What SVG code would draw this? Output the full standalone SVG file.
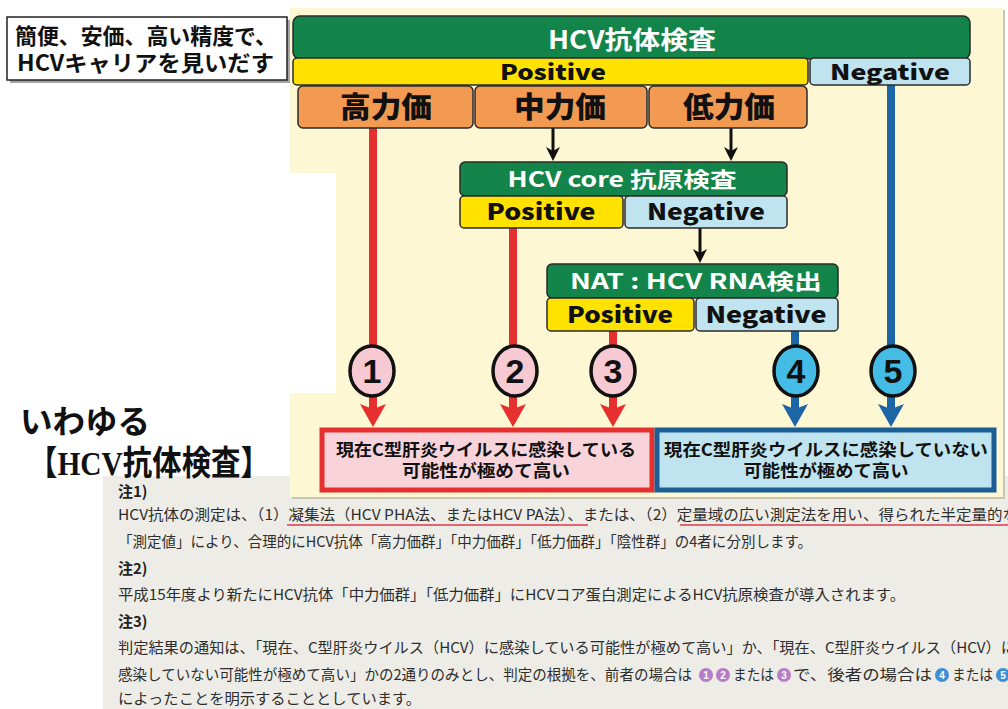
<svg xmlns="http://www.w3.org/2000/svg" width="1008" height="709" viewBox="0 0 1008 709">
<style>
.jp{font-family:"Noto Sans CJK JP","Noto Sans",sans-serif;}
.b{font-weight:700;}
.h{font-weight:900;}
.wt{fill:#ffffff;}
.bk{fill:#111111;}
.box{stroke:#2a2a2a;stroke-width:1.5;}
.green{fill:#13854a;}
.yellow{fill:#ffe200;}
.lblue{fill:#bfe4ef;}
.orange{fill:#f29a52;}
.note{font-family:"Noto Sans CJK JP","Noto Sans",sans-serif;font-size:15px;fill:#2e2e2e;}
.noteh{font-family:"Noto Sans CJK JP","Noto Sans",sans-serif;font-size:15px;font-weight:700;fill:#222;}
.red{stroke:#e5302f;stroke-width:8;fill:none;}
.blue{stroke:#1d66a6;stroke-width:8;fill:none;}
.blk{stroke:#111;stroke-width:3;fill:none;}
.circ{stroke:#111;stroke-width:3.5;}
.num{font-family:"Liberation Sans","Noto Sans",sans-serif;font-weight:700;font-size:34px;fill:#111;text-anchor:middle;}
.mid{text-anchor:middle;}
.sn{font-family:"Liberation Sans",sans-serif;font-size:10px;font-weight:700;fill:#fff;text-anchor:middle;}
</style>
<defs>
<marker id="ar" markerUnits="userSpaceOnUse" markerWidth="26" markerHeight="26" refX="6" refY="13" orient="auto" viewBox="0 0 26 26"><path d="M0,0 L23,13 L0,26 L5,13 Z" fill="#e5302f"/></marker>
<marker id="ab" markerUnits="userSpaceOnUse" markerWidth="26" markerHeight="26" refX="6" refY="13" orient="auto" viewBox="0 0 26 26"><path d="M0,0 L23,13 L0,26 L5,13 Z" fill="#1d66a6"/></marker>
<marker id="ak" markerUnits="userSpaceOnUse" markerWidth="14" markerHeight="14" refX="4" refY="7" orient="auto" viewBox="0 0 14 14"><path d="M0,0 L14,7 L0,14 L4,7 Z" fill="#111"/></marker>
</defs>

<!-- page backgrounds -->
<rect x="0" y="0" width="1008" height="709" fill="#ffffff"/>
<rect x="103" y="476" width="905" height="233" fill="#edece6"/>
<path d="M292,10 H1005 V499 H292 Z" fill="#c9c6b8"/>
<path d="M290,8 H1003 V497 H290 V393 H336 V173 H290 Z" fill="#fdf7d3"/>
<rect x="0" y="173" width="336" height="220" fill="#ffffff"/>

<!-- left labels -->
<g id="label-top">
<rect x="10" y="20" width="280" height="63" fill="#a5a5a5"/>
<rect x="7" y="17" width="280" height="63" fill="#ffffff" stroke="#222" stroke-width="1.5"/>
<text class="jp b bk" x="15" y="44" font-size="22" textLength="262" lengthAdjust="spacingAndGlyphs">簡便、安価、高い精度で、</text>
<text class="jp b bk" x="17" y="71" font-size="22" textLength="257" lengthAdjust="spacingAndGlyphs">HCVキャリアを見いだす</text>
</g>
<g id="label-iwayuru">
<text class="jp b bk" x="20" y="433" font-size="32" textLength="130" lengthAdjust="spacingAndGlyphs">いわゆる</text>
<text class="jp b bk" x="28" y="475" font-size="34" textLength="242" lengthAdjust="spacingAndGlyphs">【<tspan font-family="Liberation Serif, serif">HCV</tspan>抗体検査】</text>
</g>

<!-- connectors -->
<g id="connectors">
<line class="red" x1="373" y1="128" x2="373" y2="410" marker-end="url(#ar)"/>
<line class="red" x1="513" y1="228" x2="513" y2="410" marker-end="url(#ar)"/>
<line class="red" x1="613" y1="331" x2="613" y2="410" marker-end="url(#ar)"/>
<line class="blue" x1="795" y1="331" x2="795" y2="410" marker-end="url(#ab)"/>
<line class="blue" x1="891" y1="85" x2="891" y2="410" marker-end="url(#ab)"/>
<line class="blk" x1="553" y1="128" x2="553" y2="151" marker-end="url(#ak)"/>
<line class="blk" x1="731" y1="128" x2="731" y2="151" marker-end="url(#ak)"/>
<line class="blk" x1="700" y1="228" x2="700" y2="253" marker-end="url(#ak)"/>
</g>

<!-- HCV antibody test -->
<g id="hcv-antibody">
<rect class="box green" x="293" y="16" width="677" height="43" rx="7"/>
<text class="jp b wt mid" x="632" y="49" font-size="25" textLength="168" lengthAdjust="spacingAndGlyphs">HCV抗体検査</text>
</g>
<g id="ab-positive">
<rect class="box yellow" x="293" y="58" width="515" height="27" rx="4"/>
<text class="jp h bk mid" x="553" y="80" font-size="21" textLength="106" lengthAdjust="spacingAndGlyphs">Positive</text>
</g>
<g id="ab-negative">
<rect class="box lblue" x="810" y="58" width="160" height="27" rx="4"/>
<text class="jp h bk mid" x="890" y="80" font-size="21" textLength="120" lengthAdjust="spacingAndGlyphs">Negative</text>
</g>
<g id="high">
<rect class="box orange" x="298" y="86" width="175" height="42" rx="5"/>
<text class="jp h bk mid" x="386" y="118" font-size="29" textLength="92" lengthAdjust="spacingAndGlyphs">高力価</text>
</g>
<g id="mid">
<rect class="box orange" x="475" y="86" width="172" height="42" rx="5"/>
<text class="jp h bk mid" x="560" y="118" font-size="29" textLength="92" lengthAdjust="spacingAndGlyphs">中力価</text>
</g>
<g id="low">
<rect class="box orange" x="649" y="86" width="158" height="42" rx="5"/>
<text class="jp h bk mid" x="729" y="118" font-size="29" textLength="92" lengthAdjust="spacingAndGlyphs">低力価</text>
</g>

<!-- HCV core -->
<g id="hcv-core">
<rect class="box green" x="460" y="162" width="327" height="34" rx="5"/>
<text class="jp b wt mid" x="622" y="187" font-size="21" textLength="229" lengthAdjust="spacingAndGlyphs">HCV core 抗原検査</text>
</g>
<g id="core-positive">
<rect class="box yellow" x="460" y="196" width="163" height="32" rx="4"/>
<text class="jp h bk mid" x="541" y="220" font-size="22" textLength="109" lengthAdjust="spacingAndGlyphs">Positive</text>
</g>
<g id="core-negative">
<rect class="box lblue" x="625" y="196" width="162" height="32" rx="4"/>
<text class="jp h bk mid" x="706" y="220" font-size="22" textLength="118" lengthAdjust="spacingAndGlyphs">Negative</text>
</g>

<!-- NAT -->
<g id="nat">
<rect class="box green" x="547" y="264" width="291" height="34" rx="5"/>
<text class="jp b wt mid" x="696" y="289" font-size="21" textLength="252" lengthAdjust="spacingAndGlyphs">NAT : HCV RNA検出</text>
</g>
<g id="nat-positive">
<rect class="box yellow" x="547" y="298" width="147" height="33" rx="4"/>
<text class="jp h bk mid" x="620" y="323" font-size="22" textLength="106" lengthAdjust="spacingAndGlyphs">Positive</text>
</g>
<g id="nat-negative">
<rect class="box lblue" x="696" y="298" width="142" height="33" rx="4"/>
<text class="jp h bk mid" x="766" y="323" font-size="22" textLength="121" lengthAdjust="spacingAndGlyphs">Negative</text>
</g>

<!-- circled numbers -->
<g id="c1"><ellipse class="circ" cx="372" cy="371" rx="22" ry="25" fill="#f6c9d3"/><text class="num" x="372" y="383">1</text></g>
<g id="c2"><ellipse class="circ" cx="515" cy="371" rx="22" ry="25" fill="#f6c9d3"/><text class="num" x="515" y="383">2</text></g>
<g id="c3"><ellipse class="circ" cx="613" cy="371" rx="22" ry="25" fill="#f6c9d3"/><text class="num" x="613" y="383">3</text></g>
<g id="c4"><ellipse class="circ" cx="796" cy="371" rx="22" ry="25" fill="#44bce5"/><text class="num" x="796" y="383">4</text></g>
<g id="c5"><ellipse class="circ" cx="893" cy="371" rx="22" ry="25" fill="#44bce5"/><text class="num" x="893" y="383">5</text></g>

<!-- result boxes -->
<g id="result-infected">
<rect x="322" y="430" width="330" height="60" fill="#f8d3da" stroke="#e5302f" stroke-width="5"/>
<text class="jp b bk mid" x="486" y="456" font-size="17" textLength="300" lengthAdjust="spacingAndGlyphs">現在C型肝炎ウイルスに感染している</text>
<text class="jp b bk mid" x="486" y="477" font-size="17" textLength="168" lengthAdjust="spacingAndGlyphs">可能性が極めて高い</text>
</g>
<g id="result-not-infected">
<rect x="657" y="430" width="337" height="60" fill="#bfe4ef" stroke="#1b5e96" stroke-width="5"/>
<text class="jp b bk mid" x="826" y="456" font-size="17" textLength="324" lengthAdjust="spacingAndGlyphs">現在C型肝炎ウイルスに感染していない</text>
<text class="jp b bk mid" x="826" y="477" font-size="17" textLength="165" lengthAdjust="spacingAndGlyphs">可能性が極めて高い</text>
</g>

<!-- notes -->
<g id="notes">
<text class="noteh" x="118" y="497">注1)</text>
<text class="note" x="118" y="520" textLength="900" lengthAdjust="spacingAndGlyphs">HCV抗体の測定は、（1）凝集法（HCV PHA法、またはHCV PA法）、または、（2）定量域の広い測定法を用い、得られた半定量的な</text>
<line x1="287" y1="525" x2="588" y2="525" stroke="#e0384a" stroke-width="1.5"/>
<line x1="680" y1="525" x2="1008" y2="525" stroke="#e0384a" stroke-width="1.5"/>
<text class="note" x="118" y="547" textLength="694" lengthAdjust="spacingAndGlyphs">「測定値」により、合理的にHCV抗体「高力価群」「中力価群」「低力価群」「陰性群」の4者に分別します。</text>
<text class="noteh" x="118" y="574">注2)</text>
<text class="note" x="118" y="600" textLength="787" lengthAdjust="spacingAndGlyphs">平成15年度より新たにHCV抗体「中力価群」「低力価群」にHCVコア蛋白測定によるHCV抗原検査が導入されます。</text>
<text class="noteh" x="118" y="627">注3)</text>
<text class="note" x="118" y="653" textLength="898" lengthAdjust="spacingAndGlyphs">判定結果の通知は、「現在、C型肝炎ウイルス（HCV）に感染している可能性が極めて高い」か、「現在、C型肝炎ウイルス（HCV）に</text>
<text class="note" x="118" y="680" textLength="574" lengthAdjust="spacingAndGlyphs">感染していない可能性が極めて高い」かの2通りのみとし、判定の根拠を、前者の場合は</text>
<circle cx="706" cy="675" r="7" fill="#b77cc6"/><text class="sn" x="706" y="679">1</text>
<circle cx="723" cy="675" r="7" fill="#b77cc6"/><text class="sn" x="723" y="679">2</text>
<text class="note" x="733" y="680" textLength="41" lengthAdjust="spacingAndGlyphs">または</text>
<circle cx="784" cy="675" r="7" fill="#b77cc6"/><text class="sn" x="784" y="679">3</text>
<text class="note" x="793" y="680" textLength="139" lengthAdjust="spacingAndGlyphs">で、後者の場合は</text>
<circle cx="942" cy="675" r="7" fill="#3f8fd6"/><text class="sn" x="942" y="679">4</text>
<text class="note" x="952" y="680" textLength="41" lengthAdjust="spacingAndGlyphs">または</text>
<circle cx="1003" cy="675" r="7" fill="#3f8fd6"/><text class="sn" x="1003" y="679">5</text>
<text class="note" x="118" y="704" textLength="303" lengthAdjust="spacingAndGlyphs">によったことを明示することとしています。</text>
</g>
</svg>
